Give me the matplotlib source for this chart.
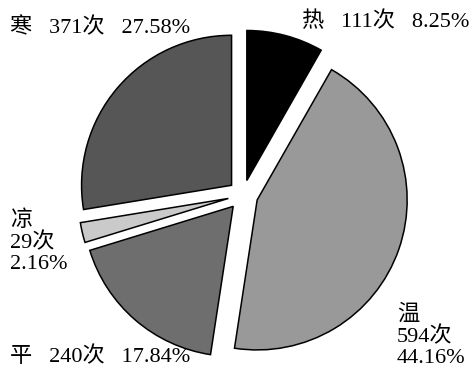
import matplotlib
matplotlib.use("Agg")
import matplotlib.pyplot as plt

plt.rcParams['font.family'] = ['Liberation Serif', 'Noto Sans CJK SC']

# frequency of each nature category
names = ['热', '温', '平', '凉', '寒']
counts = [111, 594, 240, 29, 371]
percents = [8.25, 44.16, 17.84, 2.16, 27.58]
colors = ['#000000', '#999999', '#6e6e6e', '#cacaca', '#565656']

fig = plt.figure(figsize=(4.72, 3.69), dpi=100)
ax = fig.add_axes([0, 0, 1, 1])

ax.pie(counts, colors=colors, startangle=90, counterclock=False,
       explode=[0.1] * len(counts), radius=1.0,
       wedgeprops=dict(edgecolor='black', linewidth=1.1))

# pie centre sits at (243, 195) px with a 150 px radius
r_px = 150.0
ax.set_xlim(-243 / r_px, (472 - 243) / r_px)
ax.set_ylim(-(369 - 195) / r_px, 195 / r_px)
ax.axis('off')

fs = 16
gap = '   '
lab = ['%s%s%d次%s%.2f%%' % (n, gap, c, gap, p)
       for n, c, p in zip(names, counts, percents)]
lab3 = ['%s\n%d次\n%.2f%%' % (n, c, p) for n, c, p in zip(names, counts, percents)]

fig.text(302 / 472, 1 - 22 / 369, lab[0], fontsize=fs, ha='left', va='center')
fig.text(397 / 472, 1 - 336 / 369, lab3[1], fontsize=fs, ha='left', va='center',
         linespacing=1.12)
fig.text(10 / 472, 1 - 357 / 369, lab[2], fontsize=fs, ha='left', va='center')
fig.text(10 / 472, 1 - 242 / 369, lab3[3], fontsize=fs, ha='left', va='center',
         linespacing=1.12)
fig.text(10 / 472, 1 - 28 / 369, lab[4], fontsize=fs, ha='left', va='center')

fig.savefig('out.png', dpi=100)
